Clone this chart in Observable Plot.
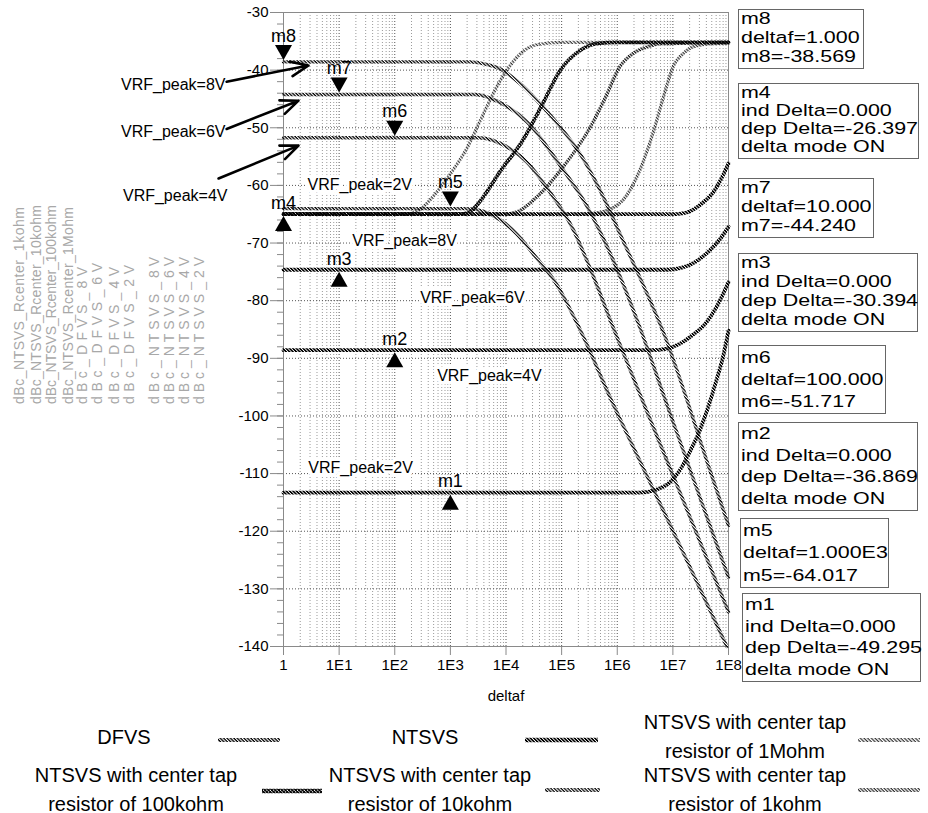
<!DOCTYPE html>
<html>
<head>
<meta charset="utf-8">
<script src="https://cdn.jsdelivr.net/npm/d3@7"></script>
<script src="https://cdn.jsdelivr.net/npm/@observablehq/plot@0.6"></script>
<style>
  html, body { margin: 0; padding: 0; background: #fff; }
  #wrap { position: relative; width: 928px; height: 813px; background: #fff; overflow: hidden; font-family: 'Liberation Sans', Arial, sans-serif; }
  #legend { position: absolute; left: 0; top: 712px; width: 928px; height: 101px; }
  .lt { position: absolute; font-size: 20px; line-height: 29px; text-align: center; color: #000; white-space: nowrap; transform: translateX(-50%); }
  .ls { position: absolute; }
</style>
</head>
<body>
<div id="wrap">
  <div id="chart"></div>
  <div id="legend"></div>
</div>
<script>
// ---------------- DATA (x given as log10(deltaf)) ----------------
const dfvs8V_lf = [0, 3.35, 3.6, 3.9, 4.25, 4.61, 4.97, 5.33, 5.7, 6.1, 6.5, 6.85, 7.26, 7.6, 8];
const dfvs8V_db = [-38.57, -38.57, -38.9, -39.8, -42.3, -45.8, -49.8, -54.5, -61, -69.5, -78, -86, -97.4, -107.5, -119];
const dfvs6V_lf = [0, 3.45, 3.7, 4.0, 4.38, 4.97, 5.45, 5.95, 6.42, 6.87, 7.5, 8];
const dfvs6V_db = [-44.24, -44.24, -44.8, -46.2, -49, -56.5, -63.5, -73.5, -85, -97.4, -114.5, -128];
const dfvs4V_lf = [0, 3.5, 3.8, 4.1, 4.38, 4.74, 5.2, 5.6, 5.92, 6.44, 7.2, 8];
const dfvs4V_db = [-51.72, -51.72, -52.3, -53.8, -56, -60.5, -67.5, -76.5, -84.5, -97, -115, -134];
const dfvs2V_lf = [0, 3.3, 3.6, 3.9, 4.2, 4.5, 4.9, 5.33, 5.9, 6.5, 7.2, 7.97];
const dfvs2V_db = [-64.02, -64.02, -64.5, -66, -68.5, -72, -77, -85, -97.4, -109.7, -124, -140];

const ntsvs8V_lf = [0, 7.05, 7.25, 7.5, 7.71, 7.85, 8];
const ntsvs8V_db = [-64.97, -64.97, -64.7, -63.3, -61.4, -59.2, -56.2];
const ntsvs6V_lf = [0, 6.9, 7.15, 7.4, 7.66, 7.85, 8];
const ntsvs6V_db = [-74.63, -74.63, -74.3, -73.3, -71.3, -69.3, -67.2];
const ntsvs4V_lf = [0, 6.6, 6.9, 7.12, 7.35, 7.6, 7.8, 8];
const ntsvs4V_db = [-88.59, -88.59, -88.3, -87.5, -86, -83.8, -80.8, -76.8];
const ntsvs2V_lf = [0, 6.4, 6.7, 6.95, 7.12, 7.3, 7.48, 7.65, 7.78, 7.9, 8];
const ntsvs2V_db = [-113.31, -113.31, -112.8, -111.5, -109.5, -106.3, -102.6, -98, -93.9, -89.8, -85.2];

const r1M_lf = [0, 2.2, 2.45, 2.7, 3.0, 3.3, 3.55, 3.8, 4.05, 4.3, 4.55, 5, 8];
const r1M_db = [-64.97, -64.97, -64.2, -61.8, -58, -53.5, -48.5, -43.5, -39.5, -36.8, -35.6, -35.2, -35.2];
const r100k_lf = [0, 3.2, 3.4, 3.53, 3.9, 4.3, 4.65, 4.97, 5.33, 5.63, 6, 8];
const r100k_db = [-64.97, -64.97, -64.2, -62.8, -57.5, -52.2, -46, -40.1, -36.6, -35.4, -35.2, -35.2];
const r10k_lf = [0, 4.0, 4.2, 4.5, 5.02, 5.51, 5.8, 6.04, 6.3, 6.53, 6.8, 8];
const r10k_db = [-64.97, -64.97, -64.6, -62.5, -56.9, -50, -44.5, -39.5, -37, -36, -35.4, -35.2];
const r1k_lf = [0, 5.3, 5.6, 5.9, 6.1, 6.4, 6.64, 6.85, 7.0, 7.2, 7.35, 7.7, 8];
const r1k_db = [-64.97, -64.97, -64.8, -64, -62.6, -57.5, -51, -44, -39.5, -37, -36, -35.4, -35.3];

// markers
const markerNames = ["m8", "m7", "m6", "m5", "m4", "m3", "m2", "m1"];
const markerDeltaf = [1, 10, 100, 1000, 1, 10, 100, 1000];
const markerDb = [-38.569, -44.240, -51.717, -64.017, -64.966, -74.634, -88.586, -113.312];
const markerDir = ["down", "down", "down", "down", "up", "up", "up", "up"];

// marker readout boxes
const boxM8 = ["m8", "deltaf=1.000", "m8=-38.569"];
const boxM4 = ["m4", "ind Delta=0.000", "dep Delta=-26.397", "delta mode ON"];
const boxM7 = ["m7", "deltaf=10.000", "m7=-44.240"];
const boxM3 = ["m3", "ind Delta=0.000", "dep Delta=-30.394", "delta mode ON"];
const boxM6 = ["m6", "deltaf=100.000", "m6=-51.717"];
const boxM2 = ["m2", "ind Delta=0.000", "dep Delta=-36.869", "delta mode ON"];
const boxM5 = ["m5", "deltaf=1.000E3", "m5=-64.017"];
const boxM1 = ["m1", "ind Delta=0.000", "dep Delta=-49.295", "delta mode ON"];

// annotation labels (text, deltaf, dB)
const vrfText = ["VRF_peak=2V", "VRF_peak=8V", "VRF_peak=6V", "VRF_peak=4V", "VRF_peak=2V", "VRF_peak=8V", "VRF_peak=6V", "VRF_peak=4V"];
const vrfDeltaf = [2.7, 17.3, 286, 578, 2.8, 0.0012, 0.0012, 0.0013];
const vrfDb = [-59.9, -69.6, -79.5, -93.0, -109.0, -42.5, -50.7, -61.8];
// arrows (from label to trace)
const arrowF1 = [0.095, 0.095, 0.068];
const arrowDb1 = [-42.0, -50.2, -58.8];
const arrowF2 = [2.81, 1.86, 1.86];
const arrowDb2 = [-39.2, -45.3, -53.1];

// axis ticks
const yMajor = [-140, -130, -120, -110, -100, -90, -80, -70, -60, -50, -40, -30];
const xMajor = [1, 1e1, 1e2, 1e3, 1e4, 1e5, 1e6, 1e7, 1e8];
const xTickLabels = ["1", "1E1", "1E2", "1E3", "1E4", "1E5", "1E6", "1E7", "1E8"];

// y-axis trace names (ADS style stacked titles)
const traceTitles = ["dBc_NTSVS_Rcenter_1kohm", "dBc_NTSVS_Rcenter_10kohm", "dBc_NTSVS_Rcenter_100kohm", "dBc_NTSVS_Rcenter_1Mohm",
  "dBc_DFVS_8V", "dBc_DFVS_6V", "dBc_DFVS_4V", "dBc_DFVS_2V",
  "dBc_NTSVS_8V", "dBc_NTSVS_6V", "dBc_NTSVS_4V", "dBc_NTSVS_2V"];

// legend
const legendGroups = ["DFVS", "NTSVS", "R1M", "R100k", "R10k", "R1k"];
const legendTexts = ["DFVS", "NTSVS", "NTSVS with center tap<br>resistor of 1Mohm", "NTSVS with center tap<br>resistor of 100kohm", "NTSVS with center tap<br>resistor of 10kohm", "NTSVS with center tap<br>resistor of 1kohm"];

// ---------------- BUILD TABLES ----------------
const seriesList = [
  {name: "dBc_NTSVS_Rcenter_1Mohm", group: "R1M", lf: r1M_lf, db: r1M_db},
  {name: "dBc_NTSVS_Rcenter_10kohm", group: "R10k", lf: r10k_lf, db: r10k_db},
  {name: "dBc_NTSVS_Rcenter_1kohm", group: "R1k", lf: r1k_lf, db: r1k_db},
  {name: "dBc_NTSVS_Rcenter_100kohm", group: "R100k", lf: r100k_lf, db: r100k_db},
  {name: "dBc_DFVS_8V", group: "DFVS", lf: dfvs8V_lf, db: dfvs8V_db},
  {name: "dBc_DFVS_6V", group: "DFVS", lf: dfvs6V_lf, db: dfvs6V_db},
  {name: "dBc_DFVS_4V", group: "DFVS", lf: dfvs4V_lf, db: dfvs4V_db},
  {name: "dBc_DFVS_2V", group: "DFVS", lf: dfvs2V_lf, db: dfvs2V_db},
  {name: "dBc_NTSVS_8V", group: "NTSVS", lf: ntsvs8V_lf, db: ntsvs8V_db},
  {name: "dBc_NTSVS_6V", group: "NTSVS", lf: ntsvs6V_lf, db: ntsvs6V_db},
  {name: "dBc_NTSVS_4V", group: "NTSVS", lf: ntsvs4V_lf, db: ntsvs4V_db},
  {name: "dBc_NTSVS_2V", group: "NTSVS", lf: ntsvs2V_lf, db: ntsvs2V_db}
];
const rows = seriesList.flatMap(s => s.lf.map((e, i) => ({series: s.name, group: s.group, deltaf: Math.pow(10, e), dB: s.db[i]})));

const markers = markerNames.map((n, i) => ({name: n, deltaf: markerDeltaf[i], dB: markerDb[i], dir: markerDir[i]}));
const vrf = vrfText.map((t, i) => ({text: t, deltaf: vrfDeltaf[i], dB: vrfDb[i]}));
const arrows = arrowF1.map((f, i) => ({x1: f, y1: arrowDb1[i], x2: arrowF2[i], y2: arrowDb2[i]}));

const yMinor = d3.range(-140, -29, 2);
const hGrid = yMajor.filter(v => v > -140 && v < -30);
const vGridMinor = [], vGridDecade = [];
for (let k = 0; k < 8; k++) for (let m = 1; m <= 9; m++) {
  const v = m * Math.pow(10, k);
  if (v > 1 && v < 1e8) (m === 1 ? vGridDecade : vGridMinor).push(v);
}

const styles = {
  DFVS:  {stroke: "url(#hDF)",   strokeWidth: 3.4},
  NTSVS: {stroke: "url(#hNT)",   strokeWidth: 3.8},
  R1M:   {stroke: "url(#h1M)",   strokeWidth: 3.2},
  R100k: {stroke: "url(#h100k)", strokeWidth: 3.8},
  R10k:  {stroke: "url(#h10k)",  strokeWidth: 3.4},
  R1k:   {stroke: "url(#h1k)",   strokeWidth: 3.2}
};
const drawOrder = ["R1M", "R10k", "R1k", "R100k", "DFVS", "NTSVS"];

const upTri = {draw(ctx) { ctx.moveTo(0, 0); ctx.lineTo(-8.5, 15); ctx.lineTo(8.5, 15); ctx.closePath(); }};
const downTri = {draw(ctx) { ctx.moveTo(0, 0); ctx.lineTo(-8.5, -15); ctx.lineTo(8.5, -15); ctx.closePath(); }};

const W = 928, H = 712;
const chart = Plot.plot({
  width: W, height: H,
  marginLeft: 283, marginRight: 200, marginTop: 12, marginBottom: 66,
  x: {type: "log", domain: [1, 1e8]},
  y: {domain: [-140, -30]},
  style: {fontFamily: "'Liberation Sans', Arial, sans-serif", fontSize: "15px", background: "white", color: "black", overflow: "visible"},
  marks: [
    Plot.ruleX(vGridMinor, {stroke: "#9a9a9a", strokeDasharray: "1,2", strokeWidth: 1}),
    Plot.ruleX(vGridDecade, {stroke: "#555", strokeDasharray: "1,2", strokeWidth: 1}),
    Plot.ruleY(hGrid, {stroke: "#555", strokeDasharray: "1,2", strokeWidth: 1}),
    Plot.frame({stroke: "#8a8a8a"}),
    Plot.axisY({ticks: yMinor, tickSize: 6, tickFormat: () => "", stroke: "#8a8a8a", label: null}),
    Plot.axisY({ticks: yMajor, tickSize: 13, tickPadding: 2, tickFormat: d => String(d), stroke: "#8a8a8a", fontSize: 15, label: null}),
    Plot.axisX({ticks: xMajor, tickSize: 9, tickPadding: 4, tickFormat: d => xTickLabels[xMajor.indexOf(d)], stroke: "#8a8a8a", fontSize: 15, label: null}),
    Plot.text(["deltaf"], {frameAnchor: "bottom", dy: 54, fontSize: 15}),
    Plot.text(vrf, {x: "deltaf", y: "dB", text: "text", textAnchor: "start", fontSize: 16, fill: "black", stroke: "white", strokeWidth: 7}),
    Plot.arrow(arrows, {x1: "x1", y1: "y1", x2: "x2", y2: "y2", stroke: "black", strokeWidth: 2.6, headLength: 11, headAngle: 45}),
    ...drawOrder.map(g => Plot.line(rows.filter(r => r.group === g), {x: "deltaf", y: "dB", z: "series", stroke: styles[g].stroke, strokeWidth: styles[g].strokeWidth, curve: "monotone-x"})),
    Plot.dot(markers.filter(m => m.dir === "down"), {x: "deltaf", y: "dB", symbol: downTri, r: 5, fill: "black", stroke: "none", dy: -2}),
    Plot.dot(markers.filter(m => m.dir === "up"), {x: "deltaf", y: "dB", symbol: upTri, r: 5, fill: "black", stroke: "none", dy: 2}),
    Plot.text(markers.filter(m => m.dir === "down"), {x: "deltaf", y: "dB", text: "name", dy: -26, fontSize: 18}),
    Plot.text(markers.filter(m => m.dir === "up"), {x: "deltaf", y: "dB", text: "name", dy: -11, fontSize: 18})
  ]
});
document.getElementById("chart").appendChild(chart);

const svg = d3.select(chart);
// hatch patterns
const defs = svg.insert("defs", ":first-child");
function hatch(id, tile, stripe, color, cross) {
  const p = defs.append("pattern").attr("id", id).attr("patternUnits", "userSpaceOnUse")
    .attr("width", tile).attr("height", tile).attr("patternTransform", "rotate(45)");
  p.append("rect").attr("width", tile).attr("height", stripe).attr("fill", color);
  if (cross) p.append("rect").attr("width", cross).attr("height", tile).attr("fill", color);
}
hatch("hDF", 2.4, 1.3, "#000");
hatch("hNT", 2.4, 1.6, "#000");
hatch("h1M", 2.6, 1.2, "#333");
hatch("h100k", 2.4, 1.5, "#000", 0.8);
hatch("h10k", 2.4, 1.3, "#111");
hatch("h1k", 2.4, 1.2, "#333");

// stacked y titles (light gray, rotated, reading bottom-to-top)
const titleX = [20, 37, 52, 69, 83, 98, 115, 130, 155, 170, 185, 200];
const titleTop = [207, 205, 205, 207, 267, 263, 267, 265, 257, 257, 257, 257];
const titleBottom = 404;
const tg = svg.append("g").attr("font-family", "'Liberation Sans', Arial, sans-serif").attr("font-size", 14)
  .attr("fill", "#a8a8a8").attr("text-anchor", "start");
traceTitles.forEach((t, i) => {
  tg.append("text").attr("text-anchor", "start").attr("transform", `translate(${titleX[i] + 4},${titleBottom}) rotate(-90)`)
    .attr("textLength", titleBottom - titleTop[i]).attr("lengthAdjust", "spacing").text(t);
});

// marker readout boxes
const boxes = [
  {lines: boxM8, x: 738, y: 9, w: 125, h: 59},
  {lines: boxM4, x: 738, y: 83, w: 180, h: 75},
  {lines: boxM7, x: 738, y: 178, w: 135, h: 59},
  {lines: boxM3, x: 738, y: 253, w: 179, h: 78},
  {lines: boxM6, x: 738, y: 345, w: 147, h: 68},
  {lines: boxM2, x: 738, y: 422, w: 179, h: 88},
  {lines: boxM5, x: 740, y: 518, w: 148, h: 69},
  {lines: boxM1, x: 742, y: 593, w: 178, h: 88}
];
const bg = svg.append("g").attr("font-family", "'Liberation Sans', Arial, sans-serif").attr("font-size", 16.5)
  .attr("fill", "#000").attr("text-anchor", "start");
boxes.forEach(b => {
  bg.append("rect").attr("x", b.x + 0.5).attr("y", b.y + 0.5).attr("width", b.w).attr("height", b.h)
    .attr("fill", "white").attr("stroke", "#666").attr("stroke-width", 1);
  const pitch = (b.h - 2) / b.lines.length;
  b.lines.forEach((ln, i) => {
    bg.append("text").attr("text-anchor", "start").attr("transform", `translate(${b.x + 3},${b.y + pitch * (i + 0.8)}) scale(1.3,1)`).text(ln);
  });
});

// legend
const legendPos = [
  {cx: 124, top: 10.5, sx: 218, sw: 62, sy: 28},
  {cx: 425, top: 10.5, sx: 525, sw: 73, sy: 28},
  {cx: 745, top: -4, sx: 858, sw: 62, sy: 28},
  {cx: 136, top: 48.5, sx: 262, sw: 60, sy: 79},
  {cx: 430, top: 48.5, sx: 545, sw: 55, sy: 78},
  {cx: 745, top: 48.5, sx: 858, sw: 62, sy: 78}
];
const leg = d3.select("#legend");
legendGroups.forEach((g, i) => {
  const p = legendPos[i];
  leg.append("div").attr("class", "lt").style("left", p.cx + "px").style("top", p.top + "px").html(legendTexts[i]);
  const s = leg.append("svg").attr("class", "ls").attr("width", p.sw).attr("height", 10)
    .style("left", p.sx + "px").style("top", (p.sy - 5) + "px");
  s.append("line").attr("x1", 0).attr("x2", p.sw).attr("y1", 5).attr("y2", 5)
    .attr("stroke", styles[g].stroke).attr("stroke-width", styles[g].strokeWidth + 0.8);
});
</script>
</body>
</html>
